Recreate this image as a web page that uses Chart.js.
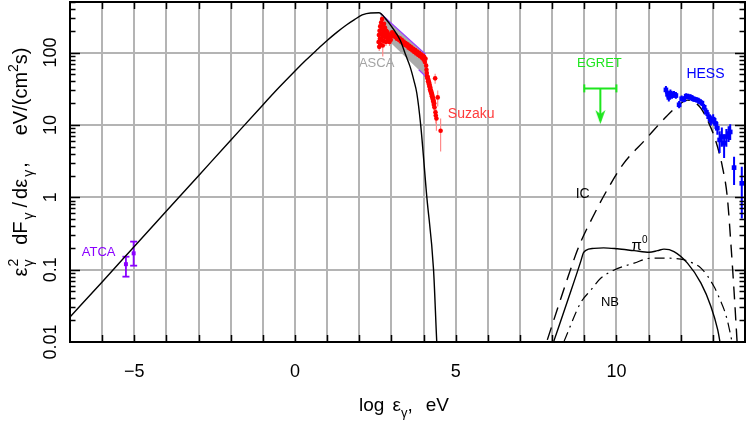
<!DOCTYPE html>
<html><head><meta charset="utf-8">
<script src="https://cdn.jsdelivr.net/npm/chart.js@4/dist/chart.umd.min.js"></script>
<style>html,body{margin:0;padding:0;background:#fff}canvas{display:block}</style>
</head><body>
<canvas id="c" width="747" height="424"></canvas>
<script>
// ---------------- data (x = log10 of photon energy in eV, y = E^2 dF/dE in eV/(cm^2 s)) ----------------
const xTickValues = [-5, 0, 5, 10];
const xTickLabels = ['\u22125', '0', '5', '10'];
const yTickValues = [0.01, 0.1, 1, 10, 100];
const yTickLabels = ['0.01', '0.1', '1', '10', '100'];

// synchrotron model (solid)
const synchX = [-7, -6, -5, -4, -3, -2, -1, -0.5, 0, 0.35, 0.7, 1.0, 1.3, 1.61, 1.85, 2.09, 2.35, 2.61, 2.85, 3.05, 3.27, 3.45, 3.58, 3.70, 3.79, 3.91, 4.10, 4.31, 4.41, 4.46];
const synchY = [0.0222, 0.0676, 0.209, 0.645, 1.99, 6.14, 18.9, 32.8, 55.7, 79.4, 111, 147, 190, 242, 285, 331, 353, 355, 282, 215, 149, 91, 64, 41, 27.4, 10, 1.02, 0.1, 0.0101, 0.004];

// inverse Compton (dashed)
const icX = [7.85, 8.2, 8.5, 8.84, 9.26, 9.71, 10.21, 10.89, 11.57, 11.88, 12.21, 12.42, 12.63, 12.88, 13.09, 13.30, 13.45, 13.57, 13.66, 13.76];
const icY = [0.0107, 0.032, 0.081, 0.214, 0.53, 1.26, 2.88, 6.2, 13.3, 17.9, 22, 20.8, 16.9, 10.5, 6.0, 2.6, 1.0, 0.2, 0.05, 0.009];

// pi0 decay (solid)
const pi0X = [8.05, 8.47, 8.89, 8.97, 9.05, 9.3, 9.6, 10.03, 10.55, 11.02, 11.28, 11.48, 11.79, 12.21, 12.63, 12.94, 13.15, 13.24];
const pi0Y = [0.0102, 0.036, 0.13, 0.17, 0.185, 0.197, 0.2, 0.194, 0.183, 0.174, 0.183, 0.192, 0.178, 0.123, 0.065, 0.031, 0.0148, 0.009];

// non-thermal bremsstrahlung (dash-dot)
const nbX = [8.37, 8.89, 9.2, 9.51, 9.93, 10.55, 11.07, 11.48, 12.0, 12.32, 12.63, 13.04, 13.25, 13.35, 13.45, 13.56, 13.62];
const nbY = [0.0102, 0.035, 0.052, 0.076, 0.099, 0.123, 0.144, 0.144, 0.14, 0.126, 0.105, 0.058, 0.036, 0.028, 0.020, 0.012, 0.009];

// ATCA radio
const atcaX = [-5.26, -5.02];
const atcaY = [0.119, 0.168];
const atcaLo = [0.080, 0.1135];
const atcaHi = [0.151, 0.244];

// ASCA band (bow-tie)
const ascaBandX = [2.66, 4.06];
const ascaBandUpper = [346, 95];
const ascaBandLower = [186, 47];
const ascaEdgeX = [3.85, 4.06];
const ascaEdgeY = [57.8, 47];

// ASCA / Suzaku X-ray points
const xrayX = [2.60,2.61,2.62,2.63,2.64,2.65,2.66,2.67,2.68,2.69,2.70,2.71,2.72,2.73,2.74,2.75,2.76,2.77,2.78,2.79,2.80,2.82,2.83,2.84,2.86,2.88,2.90,2.92,2.94,2.96,2.98,3.00,
  3.02,3.05,3.08,3.11,3.14,3.17,3.20,3.23,3.26,3.29,3.32,3.35,3.38,3.41,3.44,3.47,3.50,3.53,3.56,3.59,3.62,3.65,3.68,3.71,3.74,3.77,3.80,3.83,3.86,3.89,3.92,3.95,3.98,4.00,4.02,4.04,4.06,4.08,4.09,
  4.10,4.11,4.12,4.13,4.14,4.15,4.16,4.17,4.18,4.19,4.20,4.21,4.22,4.23,4.24,4.25,4.26,4.27,4.28,4.29,4.30,4.31,4.32,4.33,4.34,4.36,4.37,4.38,4.40,4.44,4.53];
const xrayY = [140,175,120,200,155,230,130,185,260,150,210,290,170,125,235,190,145,250,205,165,220,180,140,200,160,190,150,175,140,165,150,170,
  190,172,182,165,172,155,162,150,157,142,150,136,142,128,135,124,130,117,124,112,118,107,113,102,108,97,103,93,99,89,95,85,91,80,87,74,82,66,58,
  52,47,44,46,40,42,37,39,34,36,31,33,29,30,27,28,25,26,23,24,21,22,19,20,17.5,44,15,13.5,12.3,24,8.3];
const xrayErr = [17,21,15,25,19,30,16,22,35,18,26,38,20,37,30,24,18,32,25,20,28,22,17,25,20,24,18,21,17,20,18,20,
  15,14,15,13,14,12,13,12,13,11,12,11,11,10,11,10,10,9,10,9,9,9,9,8,8,8,8,8,8,7,8,7,8,7,7,7,7,6,7,
  6,6,5,6,5,5,5,5,4,5,4,4,4,4,4,4,4,4,3.5,4,3.5,3.5,3,3.5,3,7,3,3,4,6,4];

// EGRET upper limit
const egretX = [9.5];
const egretY = [32];
const egretXLo = [9.0];
const egretXHi = [10.0];
const egretLimit = [10.3];

// HESS TeV points
const hessX = [11.54,11.59,11.63,11.68,11.73,11.79,11.85,11.95,12.03,12.10,12.17,12.24,12.31,12.38,12.45,12.52,12.59,12.66,12.73,12.80,12.87,12.94,13.01,13.08,13.14,13.21,13.28,13.35,13.42,13.49,13.54,13.66,13.90];
const hessY = [30.5,26.5,24,27.5,25.5,26.5,25.5,19,23,22.5,25,24.5,24,23,22.5,22,21,20,17.5,15,13,11.5,12,10.5,9,6.2,6.9,5.6,6.9,7.6,8.0,2.57,1.56];
const hessLo = [27,23.5,21,24.5,23,24,23,17,21,20.5,23,22.5,22,21,20.8,20.3,19.3,18.2,15.7,13.3,11.3,9.8,10.2,8.8,7.3,4.1,5.0,3.5,5.0,5.8,6.2,1.48,0.51];
const hessHi = [34.5,30,27,31,28.5,29.5,28.5,21.5,25.5,25,27.5,27,26.5,25.5,24.5,24,23,22,19.5,17,15,13.5,14,12.5,11,8.2,9.2,7.4,8.8,9.6,10.2,3.64,2.65];

// ---------------- helpers ----------------
const FAM = '"Liberation Sans", Arial, Helvetica, sans-serif';
const pts = (xs, ys) => xs.map((x, i) => ({x, y: ys[i]}));
function errSeg(xs, lo, hi) {
  const out = [];
  xs.forEach((x, i) => { out.push({x, y: lo[i]}, {x, y: hi[i]}, {x, y: null}); });
  return out;
}
const line = (data, color, width, dash, extra) => Object.assign({
  data, showLine: true, borderColor: color, borderWidth: width, borderDash: dash || [],
  pointRadius: 0, fill: false, tension: 0
}, extra || {});
const smooth = {cubicInterpolationMode: 'monotone'};

// arrowhead point style (tip at canvas center)
const arrowImg = document.createElement('canvas');
arrowImg.width = 11; arrowImg.height = 30;
(function () {
  const g = arrowImg.getContext('2d');
  g.fillStyle = '#1ee61e';
  g.beginPath(); g.moveTo(0.5, 1); g.lineTo(5.5, 15); g.lineTo(10.5, 1); g.lineTo(5.5, 5); g.closePath(); g.fill();
})();

const C_GRID = '#b4b4b4';
const C_RED = '#ff0000', C_REDERR = '#ff8a8a';
const C_BLUE = '#0000ff', C_PURPLE = '#8a00ff', C_GREEN = '#1ee61e';

const datasets = [
  line(pts(synchX, synchY), '#000', 1.4, null, smooth),
  line([{x: egretX[0], y: egretY[0]}, {x: egretX[0], y: egretLimit[0] * 1.12}], C_GREEN, 2),
  line([{x: egretXLo[0], y: egretY[0]}, {x: egretXHi[0], y: egretY[0]}], C_GREEN, 2,
       null, {pointRadius: 4, pointStyle: 'line', pointRotation: 90, pointBorderColor: C_GREEN, pointBorderWidth: 2}),
  {data: pts(egretX, egretLimit), pointStyle: arrowImg, pointRadius: 6, showLine: false},
  {data: pts(hessX, hessY), pointStyle: 'rect', pointRadius: 3.3, backgroundColor: C_BLUE, borderWidth: 0, showLine: false},
  line(errSeg(hessX, hessLo, hessHi), C_BLUE, 2),
  {data: pts(atcaX, atcaY), pointStyle: 'rect', pointRadius: 2.8, backgroundColor: C_PURPLE, borderWidth: 0, showLine: false},
  line(errSeg(atcaX, atcaLo, atcaHi), C_PURPLE, 1.8, null,
       {pointRadius: 3.5, pointStyle: 'line', pointBorderColor: C_PURPLE, pointBorderWidth: 1.8}),
  {data: pts(xrayX, xrayY), pointStyle: 'circle', pointRadius: 2.3, backgroundColor: C_RED, borderWidth: 0, showLine: false},
  line(errSeg(xrayX, xrayX.map((_, i) => xrayY[i] - xrayErr[i]), xrayX.map((_, i) => xrayY[i] + xrayErr[i])), C_REDERR, 1.2),
  line(pts(ascaEdgeX, ascaEdgeY), '#9a40ff', 1.2),
  line(pts(ascaBandX, ascaBandUpper), '#9a40ff', 1.2, null, {fill: '+1', backgroundColor: '#ababab'}),
  line(pts(ascaBandX, ascaBandLower), 'rgba(0,0,0,0)', 0),
  line(pts(icX, icY), '#000', 1.4, [13, 8], smooth),
  line(pts(pi0X, pi0Y), '#000', 1.4, null, smooth),
  line(pts(nbX, nbY), '#000', 1.2, [10, 5, 2, 5], smooth)
];

// text labels placed in data coordinates
const labels = [
  {parts: [{t: 'ATCA'}], x: -6.11, y: 0.177, color: C_PURPLE, size: 13},
  {parts: [{t: 'ASCA'}], x: 2.54, y: 73, color: '#a4a4a4', size: 13},
  {parts: [{t: 'Suzaku'}], x: 5.48, y: 14.6, color: '#ff3b3b', size: 14},
  {parts: [{t: 'EGRET'}], x: 9.47, y: 72.5, color: C_GREEN, size: 13},
  {parts: [{t: 'HESS'}], x: 12.77, y: 51.8, color: C_BLUE, size: 14},
  {parts: [{t: 'IC'}], x: 8.95, y: 1.14, color: '#000', size: 14},
  {parts: [{t: '\u03c0'}, {t: '0', k: 'sup'}], x: 10.72, y: 0.225, color: '#000', size: 15},
  {parts: [{t: 'NB'}], x: 9.80, y: 0.036, color: '#000', size: 13}
];

const xTitle = [{t: 'log'}, {k: 'gap', w: 8}, {t: '\u03b5'}, {t: '\u03b3', k: 'sub'}, {t: ','}, {k: 'gap', w: 13}, {t: 'eV'}];
const yTitle = [{t: '\u03b5'}, {k: 'gap', w: 1}, {k: 'ss', sup: '2', sub: '\u03b3'}, {k: 'gap', w: 14}, {t: 'dF'}, {k: 'gap', w: 2},
                {t: '\u03b3', k: 'sub'}, {k: 'gap', w: 5}, {t: '/'}, {k: 'gap', w: 3}, {t: 'd\u03b5'}, {k: 'gap', w: 2},
                {t: '\u03b3', k: 'sub'}, {k: 'gap', w: 2}, {t: ','}, {k: 'gap', w: 27}, {t: 'eV/(cm'}, {t: '2', k: 'sup'}, {t: 's)'}];

function fontFor(size, k) { return (k && k !== 'n' ? Math.round(size * 0.68) : size) + 'px ' + FAM; }
function partWidth(ctx, p, size) {
  if (p.k === 'gap') return p.w;
  if (p.k === 'ss') { ctx.font = fontFor(size, 'ss'); return Math.max(ctx.measureText(p.sup).width, ctx.measureText(p.sub).width); }
  ctx.font = fontFor(size, p.k); return ctx.measureText(p.t).width;
}
function richWidth(ctx, parts, size) { return parts.reduce((w, p) => w + partWidth(ctx, p, size), 0); }
function drawRich(ctx, parts, size, x0, base) {
  let x = x0;
  ctx.textAlign = 'left'; ctx.textBaseline = 'alphabetic';
  for (const p of parts) {
    const w = partWidth(ctx, p, size);
    if (p.k === 'ss') {
      ctx.fillText(p.sup, x, base - size * 0.45);
      ctx.fillText(p.sub, x, base + size * 0.3);
    } else if (p.k !== 'gap') {
      const dy = p.k === 'sup' ? -size * 0.45 : p.k === 'sub' ? size * 0.3 : 0;
      ctx.fillText(p.t, x, base + dy);
    }
    x += w;
  }
}

const decor = {
  id: 'decor',
  afterDatasetsDraw(chart) {
    const {ctx, scales: {x, y}} = chart;
    ctx.save();
    for (const L of labels) {
      const px = x.getPixelForValue(L.x), py = y.getPixelForValue(L.y);
      const w = richWidth(ctx, L.parts, L.size);
      ctx.fillStyle = L.color;
      drawRich(ctx, L.parts, L.size, px - w / 2, py + L.size * 0.36);
    }
    ctx.restore();
  },
  afterDraw(chart) {
    const {ctx, chartArea: a, scales: {x, y}} = chart;
    ctx.save();
    ctx.strokeStyle = '#000';
    ctx.lineWidth = 1.5;
    ctx.beginPath();
    for (let v = -6; v <= 13; v++) {
      const px = Math.round(x.getPixelForValue(v)) + 0.5;
      ctx.moveTo(px, a.bottom); ctx.lineTo(px, a.bottom - 7);
      ctx.moveTo(px, a.top); ctx.lineTo(px, a.top + 7);
    }
    for (let e = -2; e <= 2; e++) {
      for (let m = 1; m <= 9; m++) {
        const v = m * Math.pow(10, e);
        if (v > 500 || (e === -2 && m === 1)) continue;
        const py = Math.round(y.getPixelForValue(v)) + 0.5;
        const len = m === 1 ? 10 : 5.5;
        ctx.moveTo(a.left, py); ctx.lineTo(a.left + len, py);
        ctx.moveTo(a.right, py); ctx.lineTo(a.right - len, py);
      }
    }
    ctx.stroke();
    ctx.lineWidth = 2;
    ctx.strokeRect(a.left, a.top, a.right - a.left, a.bottom - a.top);
    // axis titles
    ctx.fillStyle = '#000';
    const xs = 19;
    const xw = richWidth(ctx, xTitle, xs);
    drawRich(ctx, xTitle, xs, 404 - xw / 2, 411);
    ctx.translate(27, 162);
    ctx.rotate(-Math.PI / 2);
    const ys = 20;
    const yw = richWidth(ctx, yTitle, ys);
    drawRich(ctx, yTitle, ys, -yw / 2, 0);
    ctx.restore();
  }
};

Chart.defaults.font.family = FAM;
new Chart(document.getElementById('c'), {
  type: 'scatter',
  data: {datasets},
  plugins: [decor],
  options: {
    responsive: false, animation: false, devicePixelRatio: 1,
    layout: {autoPadding: false, padding: {top: 2, right: 2, left: 0, bottom: 0}},
    plugins: {legend: {display: false}, tooltip: {enabled: false}},
    elements: {line: {borderCapStyle: 'butt'}},
    scales: {
      x: {
        type: 'linear', min: -7, max: 14,
        afterBuildTicks: s => { const t = []; for (let v = -7; v <= 14; v++) t.push({value: v}); s.ticks = t; },
        afterFit: s => { s.height = 82; s.paddingLeft = 0; s.paddingRight = 0; },
        ticks: {
          autoSkip: false, maxRotation: 0, minRotation: 0, padding: 19, color: '#000',
          font: {size: 18, family: FAM},
          callback: v => { const i = xTickValues.indexOf(v); return i >= 0 ? xTickLabels[i] : ''; }
        },
        grid: {color: C_GRID, lineWidth: 2, drawTicks: false},
        border: {color: '#000', width: 2}
      },
      y: {
        type: 'logarithmic', min: 0.01, max: 500,
        afterBuildTicks: s => { s.ticks = yTickValues.map(v => ({value: v})); },
        afterFit: s => { s.width = 70; s.paddingTop = 0; s.paddingBottom = 0; },
        ticks: {
          autoSkip: false, minRotation: 90, maxRotation: 90, crossAlign: 'center', padding: 1, color: '#000',
          font: {size: 18, family: FAM},
          callback: v => { const i = yTickValues.indexOf(v); return i >= 0 ? yTickLabels[i] : ''; }
        },
        grid: {color: C_GRID, lineWidth: 2, drawTicks: false},
        border: {color: '#000', width: 2}
      }
    }
  }
});
</script>
</body></html>
